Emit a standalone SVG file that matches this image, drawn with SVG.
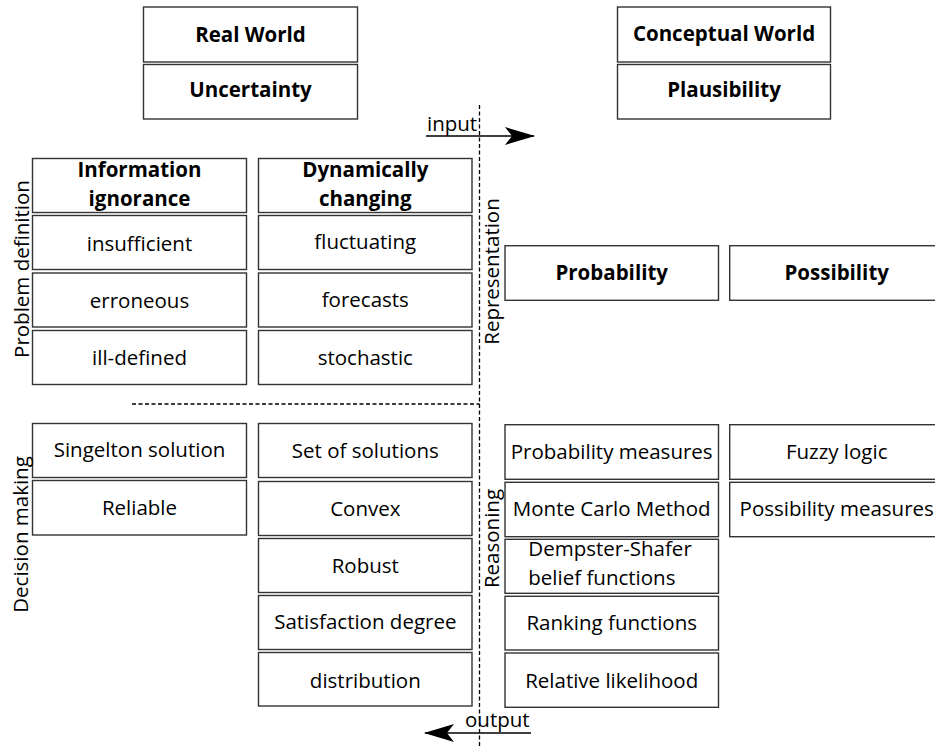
<svg xmlns="http://www.w3.org/2000/svg" width="935" height="748" viewBox="0 0 935 748">
  <style>
    .box { fill: #ffffff; stroke: #333333; stroke-width: 1.4; }
    .t { font-family: "Open Sans", "Liberation Sans", sans-serif; font-size: 20.5px; fill: #000000; text-anchor: middle; }
    .b { font-weight: bold; }
    .dash { fill: none; stroke: #000000; stroke-width: 1.3; stroke-dasharray: 4 2.5; }
    .arrow { fill: none; stroke: #000000; stroke-width: 1.6; }
  </style>
  <defs>
    <marker id="head" viewBox="0 0 30 18" refX="29" refY="9" markerWidth="30" markerHeight="18" markerUnits="userSpaceOnUse" orient="auto">
      <path d="M0,0 L30,9 L0,18 L7,9 Z" fill="#000000"/>
    </marker>
  </defs>

  <rect width="935" height="748" fill="#ffffff"/>

  <!-- world headers -->
  <g id="real-world"><rect class="box" x="143.5" y="7" width="214" height="55"/><text class="t b" x="250.5" y="42">Real World</text></g>
  <g id="uncertainty"><rect class="box" x="143.5" y="64.5" width="214" height="54.5"/><text class="t b" x="250.5" y="97">Uncertainty</text></g>
  <g id="conceptual-world"><rect class="box" x="617.5" y="7" width="213" height="55"/><text class="t b" x="724" y="41">Conceptual World</text></g>
  <g id="plausibility"><rect class="box" x="617.5" y="64.5" width="213" height="54.5"/><text class="t b" x="724" y="97">Plausibility</text></g>

  <!-- problem definition: information ignorance -->
  <g id="information-ignorance"><rect class="box" x="32.5" y="158.5" width="214" height="54"/><text class="t b" x="139.5" y="177">Information</text><text class="t b" x="139.5" y="205.5">ignorance</text></g>
  <g id="insufficient"><rect class="box" x="32.5" y="215.5" width="214" height="54"/><text class="t" x="139.5" y="250.5">insufficient</text></g>
  <g id="erroneous"><rect class="box" x="32.5" y="273" width="214" height="54"/><text class="t" x="139.5" y="307.5">erroneous</text></g>
  <g id="ill-defined"><rect class="box" x="32.5" y="330.5" width="214" height="54"/><text class="t" x="139.5" y="365">ill-defined</text></g>

  <!-- problem definition: dynamically changing -->
  <g id="dynamically-changing"><rect class="box" x="258.5" y="158.5" width="213.5" height="54"/><text class="t b" x="365.3" y="177">Dynamically</text><text class="t b" x="365.3" y="205.5">changing</text></g>
  <g id="fluctuating"><rect class="box" x="258.5" y="215.5" width="213.5" height="54"/><text class="t" x="365.3" y="248.5">fluctuating</text></g>
  <g id="forecasts"><rect class="box" x="258.5" y="273" width="213.5" height="54"/><text class="t" x="365.3" y="306.5">forecasts</text></g>
  <g id="stochastic"><rect class="box" x="258.5" y="330.5" width="213.5" height="54"/><text class="t" x="365.3" y="364.5">stochastic</text></g>

  <!-- decision making -->
  <g id="singelton-solution"><rect class="box" x="32.5" y="423.5" width="214" height="54"/><text class="t" x="139.5" y="457">Singelton solution</text></g>
  <g id="reliable"><rect class="box" x="32.5" y="480.5" width="214" height="54.5"/><text class="t" x="139.5" y="515">Reliable</text></g>
  <g id="set-of-solutions"><rect class="box" x="258.5" y="423.5" width="213.5" height="54"/><text class="t" x="365.3" y="458">Set of solutions</text></g>
  <g id="convex"><rect class="box" x="258.5" y="481.5" width="213.5" height="54"/><text class="t" x="365.3" y="516">Convex</text></g>
  <g id="robust"><rect class="box" x="258.5" y="538.5" width="213.5" height="54"/><text class="t" x="365.3" y="573">Robust</text></g>
  <g id="satisfaction-degree"><rect class="box" x="258.5" y="595.5" width="213.5" height="54"/><text class="t" x="365.3" y="628.5">Satisfaction degree</text></g>
  <g id="distribution"><rect class="box" x="258.5" y="652.5" width="213.5" height="53.5"/><text class="t" x="365.3" y="687.5">distribution</text></g>

  <!-- representation -->
  <g id="probability"><rect class="box" x="505" y="245.7" width="213.5" height="54.6"/><text class="t b" x="611.7" y="279.5">Probability</text></g>
  <g id="possibility"><rect class="box" x="729.7" y="245.7" width="214" height="54.6"/><text class="t b" x="836.7" y="279.5">Possibility</text></g>

  <!-- reasoning -->
  <g id="probability-measures"><rect class="box" x="505" y="424.7" width="213.5" height="54.6"/><text class="t" x="611.7" y="458.5">Probability measures</text></g>
  <g id="monte-carlo"><rect class="box" x="505" y="482.3" width="213.5" height="54.4"/><text class="t" x="611.7" y="516">Monte Carlo Method</text></g>
  <g id="dempster-shafer"><rect class="box" x="505" y="539.3" width="213.5" height="54"/><text class="t" x="528.3" y="555.5" style="text-anchor:start">Dempster-Shafer</text><text class="t" x="528.3" y="584.7" style="text-anchor:start">belief functions</text></g>
  <g id="ranking-functions"><rect class="box" x="505" y="596.3" width="213.5" height="53.7"/><text class="t" x="611.7" y="629.5">Ranking functions</text></g>
  <g id="relative-likelihood"><rect class="box" x="505" y="653" width="213.5" height="54.3"/><text class="t" x="611.7" y="688">Relative likelihood</text></g>
  <g id="fuzzy-logic"><rect class="box" x="729.7" y="424.7" width="214" height="54.6"/><text class="t" x="836.7" y="458.5">Fuzzy logic</text></g>
  <g id="possibility-measures"><rect class="box" x="729.7" y="482.3" width="214" height="54.4"/><text class="t" x="836.7" y="516">Possibility measures</text></g>

  <!-- side labels -->
  <g id="label-problem-definition"><text class="t" transform="translate(28.5 269) rotate(-90)">Problem definition</text></g>
  <g id="label-decision-making"><text class="t" transform="translate(27.5 534.5) rotate(-90)">Decision making</text></g>
  <g id="label-representation"><text class="t" transform="translate(499 271.5) rotate(-90)">Representation</text></g>
  <g id="label-reasoning"><text class="t" transform="translate(499 538.5) rotate(-90)">Reasoning</text></g>

  <!-- dividers and flow arrows -->
  <g id="connectors">
    <line class="dash" x1="479.5" y1="105" x2="479.5" y2="748"/>
    <line class="dash" x1="132" y1="404" x2="479.5" y2="404"/>
    <line class="arrow" x1="426" y1="136" x2="534" y2="136" marker-end="url(#head)"/>
    <text class="t" x="427" y="130.5" style="text-anchor:start">input</text>
    <line class="arrow" x1="531" y1="733" x2="425" y2="733" marker-end="url(#head)"/>
    <text class="t" x="465" y="726.5" style="text-anchor:start">output</text>
  </g>
</svg>
